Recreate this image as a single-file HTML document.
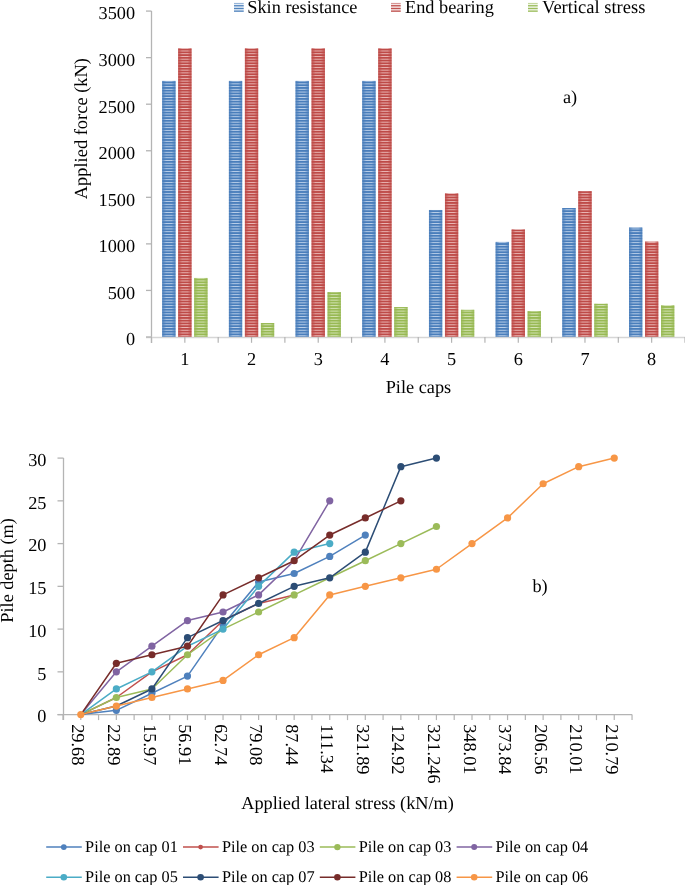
<!DOCTYPE html>
<html><head><meta charset="utf-8"><style>
html,body{margin:0;padding:0;background:#fff;width:685px;height:885px;overflow:hidden}
svg{display:block;will-change:transform}
text{text-rendering:geometricPrecision;font-family:"Liberation Serif", serif;font-size:18.3px;fill:#000}
</style></head><body>
<svg width="685" height="885" viewBox="0 0 685 885">

<defs>
 <linearGradient id="edge" x1="0" x2="1" y1="0" y2="0">
  <stop offset="0" stop-color="#000" stop-opacity="0.10"/>
  <stop offset="0.25" stop-color="#000" stop-opacity="0"/>
  <stop offset="0.75" stop-color="#000" stop-opacity="0"/>
  <stop offset="1" stop-color="#000" stop-opacity="0.10"/>
 </linearGradient>
 <linearGradient id="pB" gradientUnits="userSpaceOnUse" x1="0" y1="0.331" x2="0" y2="3.069" spreadMethod="repeat">
  <stop offset="0" stop-color="#4A7EBB"/>
  <stop offset="0.16" stop-color="#4A7EBB"/>
  <stop offset="0.5" stop-color="#BBD0EA"/>
  <stop offset="0.84" stop-color="#4A7EBB"/>
  <stop offset="1" stop-color="#4A7EBB"/>
 </linearGradient>
 <linearGradient id="epB" x1="0" x2="1" y1="0" y2="0">
  <stop offset="0" stop-color="#4A7EBB" stop-opacity="0.9"/>
  <stop offset="0.3" stop-color="#4A7EBB" stop-opacity="0"/>
  <stop offset="0.7" stop-color="#4A7EBB" stop-opacity="0"/>
  <stop offset="1" stop-color="#4A7EBB" stop-opacity="0.9"/>
 </linearGradient>
 <linearGradient id="pR" gradientUnits="userSpaceOnUse" x1="0" y1="0.331" x2="0" y2="3.069" spreadMethod="repeat">
  <stop offset="0" stop-color="#BE4B48"/>
  <stop offset="0.16" stop-color="#BE4B48"/>
  <stop offset="0.5" stop-color="#EBB8B6"/>
  <stop offset="0.84" stop-color="#BE4B48"/>
  <stop offset="1" stop-color="#BE4B48"/>
 </linearGradient>
 <linearGradient id="epR" x1="0" x2="1" y1="0" y2="0">
  <stop offset="0" stop-color="#BE4B48" stop-opacity="0.9"/>
  <stop offset="0.3" stop-color="#BE4B48" stop-opacity="0"/>
  <stop offset="0.7" stop-color="#BE4B48" stop-opacity="0"/>
  <stop offset="1" stop-color="#BE4B48" stop-opacity="0.9"/>
 </linearGradient>
 <linearGradient id="pG" gradientUnits="userSpaceOnUse" x1="0" y1="0.331" x2="0" y2="3.069" spreadMethod="repeat">
  <stop offset="0" stop-color="#98B954"/>
  <stop offset="0.16" stop-color="#98B954"/>
  <stop offset="0.5" stop-color="#D6E5B8"/>
  <stop offset="0.84" stop-color="#98B954"/>
  <stop offset="1" stop-color="#98B954"/>
 </linearGradient>
 <linearGradient id="epG" x1="0" x2="1" y1="0" y2="0">
  <stop offset="0" stop-color="#98B954" stop-opacity="0.9"/>
  <stop offset="0.3" stop-color="#98B954" stop-opacity="0"/>
  <stop offset="0.7" stop-color="#98B954" stop-opacity="0"/>
  <stop offset="1" stop-color="#98B954" stop-opacity="0.9"/>
 </linearGradient>
</defs>
<rect x="162.22" y="80.92" width="13.25" height="256.08" fill="url(#pB)"/>
<rect x="162.22" y="80.92" width="13.25" height="256.08" fill="url(#epB)"/>
<rect x="178.22" y="48.33" width="13.25" height="288.67" fill="url(#pR)"/>
<rect x="178.22" y="48.33" width="13.25" height="288.67" fill="url(#epR)"/>
<rect x="194.22" y="277.96" width="13.25" height="59.04" fill="url(#pG)"/>
<rect x="194.22" y="277.96" width="13.25" height="59.04" fill="url(#epG)"/>
<rect x="228.91" y="80.92" width="13.25" height="256.08" fill="url(#pB)"/>
<rect x="228.91" y="80.92" width="13.25" height="256.08" fill="url(#epB)"/>
<rect x="244.91" y="48.33" width="13.25" height="288.67" fill="url(#pR)"/>
<rect x="244.91" y="48.33" width="13.25" height="288.67" fill="url(#epR)"/>
<rect x="260.91" y="323.03" width="13.25" height="13.97" fill="url(#pG)"/>
<rect x="260.91" y="323.03" width="13.25" height="13.97" fill="url(#epG)"/>
<rect x="295.59" y="80.92" width="13.25" height="256.08" fill="url(#pB)"/>
<rect x="295.59" y="80.92" width="13.25" height="256.08" fill="url(#epB)"/>
<rect x="311.59" y="48.33" width="13.25" height="288.67" fill="url(#pR)"/>
<rect x="311.59" y="48.33" width="13.25" height="288.67" fill="url(#epR)"/>
<rect x="327.59" y="292.02" width="13.25" height="44.98" fill="url(#pG)"/>
<rect x="327.59" y="292.02" width="13.25" height="44.98" fill="url(#epG)"/>
<rect x="362.28" y="80.92" width="13.25" height="256.08" fill="url(#pB)"/>
<rect x="362.28" y="80.92" width="13.25" height="256.08" fill="url(#epB)"/>
<rect x="378.28" y="48.33" width="13.25" height="288.67" fill="url(#pR)"/>
<rect x="378.28" y="48.33" width="13.25" height="288.67" fill="url(#epR)"/>
<rect x="394.28" y="307.02" width="13.25" height="29.98" fill="url(#pG)"/>
<rect x="394.28" y="307.02" width="13.25" height="29.98" fill="url(#epG)"/>
<rect x="428.97" y="209.98" width="13.25" height="127.02" fill="url(#pB)"/>
<rect x="428.97" y="209.98" width="13.25" height="127.02" fill="url(#epB)"/>
<rect x="444.97" y="193.32" width="13.25" height="143.68" fill="url(#pR)"/>
<rect x="444.97" y="193.32" width="13.25" height="143.68" fill="url(#epR)"/>
<rect x="460.97" y="309.81" width="13.25" height="27.19" fill="url(#pG)"/>
<rect x="460.97" y="309.81" width="13.25" height="27.19" fill="url(#epG)"/>
<rect x="495.66" y="241.92" width="13.25" height="95.08" fill="url(#pB)"/>
<rect x="495.66" y="241.92" width="13.25" height="95.08" fill="url(#epB)"/>
<rect x="511.66" y="229.45" width="13.25" height="107.55" fill="url(#pR)"/>
<rect x="511.66" y="229.45" width="13.25" height="107.55" fill="url(#epR)"/>
<rect x="527.66" y="311.02" width="13.25" height="25.98" fill="url(#pG)"/>
<rect x="527.66" y="311.02" width="13.25" height="25.98" fill="url(#epG)"/>
<rect x="562.34" y="208.03" width="13.25" height="128.97" fill="url(#pB)"/>
<rect x="562.34" y="208.03" width="13.25" height="128.97" fill="url(#epB)"/>
<rect x="578.34" y="191.17" width="13.25" height="145.83" fill="url(#pR)"/>
<rect x="578.34" y="191.17" width="13.25" height="145.83" fill="url(#epR)"/>
<rect x="594.34" y="303.76" width="13.25" height="33.24" fill="url(#pG)"/>
<rect x="594.34" y="303.76" width="13.25" height="33.24" fill="url(#epG)"/>
<rect x="629.03" y="227.58" width="13.25" height="109.42" fill="url(#pB)"/>
<rect x="629.03" y="227.58" width="13.25" height="109.42" fill="url(#epB)"/>
<rect x="645.03" y="241.65" width="13.25" height="95.35" fill="url(#pR)"/>
<rect x="645.03" y="241.65" width="13.25" height="95.35" fill="url(#epR)"/>
<rect x="661.03" y="305.25" width="13.25" height="31.75" fill="url(#pG)"/>
<rect x="661.03" y="305.25" width="13.25" height="31.75" fill="url(#epG)"/>
<line x1="151.5" y1="11.1" x2="151.5" y2="343.0" stroke="#B4B4B4" stroke-width="1.3"/>
<line x1="146.0" y1="337.5" x2="685" y2="337.5" stroke="#D6D6D6" stroke-width="1.6"/>
<line x1="146.0" y1="337.00" x2="151.5" y2="337.00" stroke="#B4B4B4" stroke-width="1.3"/>
<text x="135.1" y="345.40" text-anchor="end">0</text>
<line x1="146.0" y1="290.44" x2="151.5" y2="290.44" stroke="#B4B4B4" stroke-width="1.3"/>
<text x="135.1" y="298.84" text-anchor="end">500</text>
<line x1="146.0" y1="243.88" x2="151.5" y2="243.88" stroke="#B4B4B4" stroke-width="1.3"/>
<text x="135.1" y="252.28" text-anchor="end">1000</text>
<line x1="146.0" y1="197.32" x2="151.5" y2="197.32" stroke="#B4B4B4" stroke-width="1.3"/>
<text x="135.1" y="205.72" text-anchor="end">1500</text>
<line x1="146.0" y1="150.76" x2="151.5" y2="150.76" stroke="#B4B4B4" stroke-width="1.3"/>
<text x="135.1" y="159.16" text-anchor="end">2000</text>
<line x1="146.0" y1="104.20" x2="151.5" y2="104.20" stroke="#B4B4B4" stroke-width="1.3"/>
<text x="135.1" y="112.60" text-anchor="end">2500</text>
<line x1="146.0" y1="57.64" x2="151.5" y2="57.64" stroke="#B4B4B4" stroke-width="1.3"/>
<text x="135.1" y="66.04" text-anchor="end">3000</text>
<line x1="146.0" y1="11.08" x2="151.5" y2="11.08" stroke="#B4B4B4" stroke-width="1.3"/>
<text x="135.1" y="19.48" text-anchor="end">3500</text>
<line x1="151.50" y1="337.0" x2="151.50" y2="342.8" stroke="#B4B4B4" stroke-width="1.2"/>
<line x1="184.84" y1="337.0" x2="184.84" y2="342.8" stroke="#B4B4B4" stroke-width="1.2"/>
<line x1="218.19" y1="337.0" x2="218.19" y2="342.8" stroke="#B4B4B4" stroke-width="1.2"/>
<line x1="251.53" y1="337.0" x2="251.53" y2="342.8" stroke="#B4B4B4" stroke-width="1.2"/>
<line x1="284.88" y1="337.0" x2="284.88" y2="342.8" stroke="#B4B4B4" stroke-width="1.2"/>
<line x1="318.22" y1="337.0" x2="318.22" y2="342.8" stroke="#B4B4B4" stroke-width="1.2"/>
<line x1="351.56" y1="337.0" x2="351.56" y2="342.8" stroke="#B4B4B4" stroke-width="1.2"/>
<line x1="384.91" y1="337.0" x2="384.91" y2="342.8" stroke="#B4B4B4" stroke-width="1.2"/>
<line x1="418.25" y1="337.0" x2="418.25" y2="342.8" stroke="#B4B4B4" stroke-width="1.2"/>
<line x1="451.59" y1="337.0" x2="451.59" y2="342.8" stroke="#B4B4B4" stroke-width="1.2"/>
<line x1="484.94" y1="337.0" x2="484.94" y2="342.8" stroke="#B4B4B4" stroke-width="1.2"/>
<line x1="518.28" y1="337.0" x2="518.28" y2="342.8" stroke="#B4B4B4" stroke-width="1.2"/>
<line x1="551.62" y1="337.0" x2="551.62" y2="342.8" stroke="#B4B4B4" stroke-width="1.2"/>
<line x1="584.97" y1="337.0" x2="584.97" y2="342.8" stroke="#B4B4B4" stroke-width="1.2"/>
<line x1="618.31" y1="337.0" x2="618.31" y2="342.8" stroke="#B4B4B4" stroke-width="1.2"/>
<line x1="651.66" y1="337.0" x2="651.66" y2="342.8" stroke="#B4B4B4" stroke-width="1.2"/>
<line x1="685.00" y1="337.0" x2="685.00" y2="342.8" stroke="#B4B4B4" stroke-width="1.2"/>
<text x="184.84" y="365.3" text-anchor="middle">1</text>
<text x="251.53" y="365.3" text-anchor="middle">2</text>
<text x="318.22" y="365.3" text-anchor="middle">3</text>
<text x="384.91" y="365.3" text-anchor="middle">4</text>
<text x="451.59" y="365.3" text-anchor="middle">5</text>
<text x="518.28" y="365.3" text-anchor="middle">6</text>
<text x="584.97" y="365.3" text-anchor="middle">7</text>
<text x="651.66" y="365.3" text-anchor="middle">8</text>
<text x="385.7" y="392.5">Pile caps</text>
<text transform="translate(87,199.3) rotate(-90)" style="font-size:18.45px">Applied force (kN)</text>
<text x="562.9" y="102.8">a)</text>
<rect x="234" y="2.9" width="9.7" height="1.0" fill="#4A7EBB" fill-opacity="0.55"/>
<rect x="234" y="5.1" width="9.7" height="1.3" fill="#4A7EBB" fill-opacity="0.95"/>
<rect x="234" y="7.85" width="9.7" height="1.3" fill="#4A7EBB" fill-opacity="0.95"/>
<rect x="234" y="10.5" width="9.7" height="1.3" fill="#4A7EBB" fill-opacity="0.95"/>
<rect x="234" y="3" width="9.7" height="9" fill="#4A7EBB" fill-opacity="0.15"/>
<text x="247.3" y="12.7">Skin resistance</text>
<rect x="391" y="2.9" width="9.7" height="1.0" fill="#BE4B48" fill-opacity="0.55"/>
<rect x="391" y="5.1" width="9.7" height="1.3" fill="#BE4B48" fill-opacity="0.95"/>
<rect x="391" y="7.85" width="9.7" height="1.3" fill="#BE4B48" fill-opacity="0.95"/>
<rect x="391" y="10.5" width="9.7" height="1.3" fill="#BE4B48" fill-opacity="0.95"/>
<rect x="391" y="3" width="9.7" height="9" fill="#BE4B48" fill-opacity="0.15"/>
<text x="405.0" y="12.7">End bearing</text>
<rect x="528" y="2.9" width="9.7" height="1.0" fill="#98B954" fill-opacity="0.55"/>
<rect x="528" y="5.1" width="9.7" height="1.3" fill="#98B954" fill-opacity="0.95"/>
<rect x="528" y="7.85" width="9.7" height="1.3" fill="#98B954" fill-opacity="0.95"/>
<rect x="528" y="10.5" width="9.7" height="1.3" fill="#98B954" fill-opacity="0.95"/>
<rect x="528" y="3" width="9.7" height="9" fill="#98B954" fill-opacity="0.15"/>
<text x="542.1" y="12.7" style="font-size:18.5px">Vertical stress</text>
<line x1="63.5" y1="458.1" x2="63.5" y2="720.1" stroke="#B4B4B4" stroke-width="1.3"/>
<line x1="57.5" y1="714.6" x2="632.04" y2="714.6" stroke="#B4B4B4" stroke-width="1.3"/>
<line x1="57.5" y1="714.60" x2="63.5" y2="714.60" stroke="#B4B4B4" stroke-width="1.3"/>
<text x="46.5" y="722.40" text-anchor="end">0</text>
<line x1="57.5" y1="671.85" x2="63.5" y2="671.85" stroke="#B4B4B4" stroke-width="1.3"/>
<text x="46.5" y="679.65" text-anchor="end">5</text>
<line x1="57.5" y1="629.10" x2="63.5" y2="629.10" stroke="#B4B4B4" stroke-width="1.3"/>
<text x="46.5" y="636.90" text-anchor="end">10</text>
<line x1="57.5" y1="586.35" x2="63.5" y2="586.35" stroke="#B4B4B4" stroke-width="1.3"/>
<text x="46.5" y="594.15" text-anchor="end">15</text>
<line x1="57.5" y1="543.60" x2="63.5" y2="543.60" stroke="#B4B4B4" stroke-width="1.3"/>
<text x="46.5" y="551.40" text-anchor="end">20</text>
<line x1="57.5" y1="500.85" x2="63.5" y2="500.85" stroke="#B4B4B4" stroke-width="1.3"/>
<text x="46.5" y="508.65" text-anchor="end">25</text>
<line x1="57.5" y1="458.10" x2="63.5" y2="458.10" stroke="#B4B4B4" stroke-width="1.3"/>
<text x="46.5" y="465.90" text-anchor="end">30</text>
<line x1="63.00" y1="714.6" x2="63.00" y2="720.1" stroke="#B4B4B4" stroke-width="1.2"/>
<line x1="80.78" y1="714.6" x2="80.78" y2="720.1" stroke="#B4B4B4" stroke-width="1.2"/>
<line x1="98.56" y1="714.6" x2="98.56" y2="720.1" stroke="#B4B4B4" stroke-width="1.2"/>
<line x1="116.35" y1="714.6" x2="116.35" y2="720.1" stroke="#B4B4B4" stroke-width="1.2"/>
<line x1="134.13" y1="714.6" x2="134.13" y2="720.1" stroke="#B4B4B4" stroke-width="1.2"/>
<line x1="151.91" y1="714.6" x2="151.91" y2="720.1" stroke="#B4B4B4" stroke-width="1.2"/>
<line x1="169.69" y1="714.6" x2="169.69" y2="720.1" stroke="#B4B4B4" stroke-width="1.2"/>
<line x1="187.48" y1="714.6" x2="187.48" y2="720.1" stroke="#B4B4B4" stroke-width="1.2"/>
<line x1="205.26" y1="714.6" x2="205.26" y2="720.1" stroke="#B4B4B4" stroke-width="1.2"/>
<line x1="223.04" y1="714.6" x2="223.04" y2="720.1" stroke="#B4B4B4" stroke-width="1.2"/>
<line x1="240.82" y1="714.6" x2="240.82" y2="720.1" stroke="#B4B4B4" stroke-width="1.2"/>
<line x1="258.61" y1="714.6" x2="258.61" y2="720.1" stroke="#B4B4B4" stroke-width="1.2"/>
<line x1="276.39" y1="714.6" x2="276.39" y2="720.1" stroke="#B4B4B4" stroke-width="1.2"/>
<line x1="294.17" y1="714.6" x2="294.17" y2="720.1" stroke="#B4B4B4" stroke-width="1.2"/>
<line x1="311.95" y1="714.6" x2="311.95" y2="720.1" stroke="#B4B4B4" stroke-width="1.2"/>
<line x1="329.74" y1="714.6" x2="329.74" y2="720.1" stroke="#B4B4B4" stroke-width="1.2"/>
<line x1="347.52" y1="714.6" x2="347.52" y2="720.1" stroke="#B4B4B4" stroke-width="1.2"/>
<line x1="365.30" y1="714.6" x2="365.30" y2="720.1" stroke="#B4B4B4" stroke-width="1.2"/>
<line x1="383.08" y1="714.6" x2="383.08" y2="720.1" stroke="#B4B4B4" stroke-width="1.2"/>
<line x1="400.87" y1="714.6" x2="400.87" y2="720.1" stroke="#B4B4B4" stroke-width="1.2"/>
<line x1="418.65" y1="714.6" x2="418.65" y2="720.1" stroke="#B4B4B4" stroke-width="1.2"/>
<line x1="436.43" y1="714.6" x2="436.43" y2="720.1" stroke="#B4B4B4" stroke-width="1.2"/>
<line x1="454.21" y1="714.6" x2="454.21" y2="720.1" stroke="#B4B4B4" stroke-width="1.2"/>
<line x1="472.00" y1="714.6" x2="472.00" y2="720.1" stroke="#B4B4B4" stroke-width="1.2"/>
<line x1="489.78" y1="714.6" x2="489.78" y2="720.1" stroke="#B4B4B4" stroke-width="1.2"/>
<line x1="507.56" y1="714.6" x2="507.56" y2="720.1" stroke="#B4B4B4" stroke-width="1.2"/>
<line x1="525.35" y1="714.6" x2="525.35" y2="720.1" stroke="#B4B4B4" stroke-width="1.2"/>
<line x1="543.13" y1="714.6" x2="543.13" y2="720.1" stroke="#B4B4B4" stroke-width="1.2"/>
<line x1="560.91" y1="714.6" x2="560.91" y2="720.1" stroke="#B4B4B4" stroke-width="1.2"/>
<line x1="578.69" y1="714.6" x2="578.69" y2="720.1" stroke="#B4B4B4" stroke-width="1.2"/>
<line x1="596.47" y1="714.6" x2="596.47" y2="720.1" stroke="#B4B4B4" stroke-width="1.2"/>
<line x1="614.26" y1="714.6" x2="614.26" y2="720.1" stroke="#B4B4B4" stroke-width="1.2"/>
<line x1="632.04" y1="714.6" x2="632.04" y2="720.1" stroke="#B4B4B4" stroke-width="1.2"/>
<text transform="translate(72.38,724.2) rotate(90)">29.68</text>
<text transform="translate(107.95,724.2) rotate(90)">22.89</text>
<text transform="translate(143.51,724.2) rotate(90)">15.97</text>
<text transform="translate(179.08,724.2) rotate(90)">56.91</text>
<text transform="translate(214.64,724.2) rotate(90)">62.74</text>
<text transform="translate(250.21,724.2) rotate(90)">79.08</text>
<text transform="translate(285.77,724.2) rotate(90)">87.44</text>
<text transform="translate(321.34,724.2) rotate(90)">111.34</text>
<text transform="translate(356.90,724.2) rotate(90)">321.89</text>
<text transform="translate(392.47,724.2) rotate(90)">124.92</text>
<text transform="translate(428.03,724.2) rotate(90)">321.246</text>
<text transform="translate(463.60,724.2) rotate(90)">348.01</text>
<text transform="translate(499.16,724.2) rotate(90)">373.84</text>
<text transform="translate(534.73,724.2) rotate(90)">206.56</text>
<text transform="translate(570.29,724.2) rotate(90)">210.01</text>
<text transform="translate(605.86,724.2) rotate(90)">210.79</text>
<polyline points="80.78,714.60 116.35,710.33 151.91,693.23 187.48,676.12 223.04,624.83 258.61,582.08 294.17,573.52 329.74,556.42 365.30,535.05" fill="none" stroke="#4F81BD" stroke-width="1.5" stroke-linejoin="round"/>
<circle cx="116.35" cy="710.33" r="3.6" fill="#4F81BD"/>
<circle cx="151.91" cy="693.23" r="3.6" fill="#4F81BD"/>
<circle cx="187.48" cy="676.12" r="3.6" fill="#4F81BD"/>
<circle cx="223.04" cy="624.83" r="3.6" fill="#4F81BD"/>
<circle cx="258.61" cy="582.08" r="3.6" fill="#4F81BD"/>
<circle cx="294.17" cy="573.52" r="3.6" fill="#4F81BD"/>
<circle cx="329.74" cy="556.42" r="3.6" fill="#4F81BD"/>
<circle cx="365.30" cy="535.05" r="3.6" fill="#4F81BD"/>
<polyline points="80.78,714.60 116.35,697.50 151.91,671.85 187.48,654.75 223.04,620.55 258.61,603.45 294.17,594.90" fill="none" stroke="#C0504D" stroke-width="1.5" stroke-linejoin="round"/>
<polyline points="80.78,714.60 116.35,697.50 151.91,688.95 187.48,654.75 223.04,629.10 258.61,612.00 294.17,594.90 329.74,577.80 365.30,560.70 400.87,543.60 436.43,526.50" fill="none" stroke="#9BBB59" stroke-width="1.5" stroke-linejoin="round"/>
<circle cx="116.35" cy="697.50" r="3.6" fill="#9BBB59"/>
<circle cx="187.48" cy="654.75" r="3.6" fill="#9BBB59"/>
<circle cx="258.61" cy="612.00" r="3.6" fill="#9BBB59"/>
<circle cx="294.17" cy="594.90" r="3.6" fill="#9BBB59"/>
<circle cx="365.30" cy="560.70" r="3.6" fill="#9BBB59"/>
<circle cx="400.87" cy="543.60" r="3.6" fill="#9BBB59"/>
<circle cx="436.43" cy="526.50" r="3.6" fill="#9BBB59"/>
<polyline points="80.78,714.60 116.35,671.85 151.91,646.20 187.48,620.55 223.04,612.00 258.61,594.90 294.17,560.70 329.74,500.85" fill="none" stroke="#8064A2" stroke-width="1.5" stroke-linejoin="round"/>
<circle cx="116.35" cy="671.85" r="3.6" fill="#8064A2"/>
<circle cx="151.91" cy="646.20" r="3.6" fill="#8064A2"/>
<circle cx="187.48" cy="620.55" r="3.6" fill="#8064A2"/>
<circle cx="223.04" cy="612.00" r="3.6" fill="#8064A2"/>
<circle cx="258.61" cy="594.90" r="3.6" fill="#8064A2"/>
<circle cx="329.74" cy="500.85" r="3.6" fill="#8064A2"/>
<polyline points="80.78,714.60 116.35,688.95 151.91,671.85 187.48,646.20 223.04,629.10 258.61,586.35 294.17,552.15 329.74,543.60" fill="none" stroke="#4BACC6" stroke-width="1.5" stroke-linejoin="round"/>
<circle cx="116.35" cy="688.95" r="3.6" fill="#4BACC6"/>
<circle cx="151.91" cy="671.85" r="3.6" fill="#4BACC6"/>
<circle cx="223.04" cy="629.10" r="3.6" fill="#4BACC6"/>
<circle cx="258.61" cy="586.35" r="3.6" fill="#4BACC6"/>
<circle cx="294.17" cy="552.15" r="3.6" fill="#4BACC6"/>
<circle cx="329.74" cy="543.60" r="3.6" fill="#4BACC6"/>
<polyline points="80.78,714.60 116.35,706.05 151.91,688.95 187.48,637.65 223.04,620.55 258.61,603.45 294.17,586.35 329.74,577.80 365.30,552.15 400.87,466.65 436.43,458.10" fill="none" stroke="#2C4D75" stroke-width="1.5" stroke-linejoin="round"/>
<circle cx="151.91" cy="688.95" r="3.6" fill="#2C4D75"/>
<circle cx="187.48" cy="637.65" r="3.6" fill="#2C4D75"/>
<circle cx="223.04" cy="620.55" r="3.6" fill="#2C4D75"/>
<circle cx="258.61" cy="603.45" r="3.6" fill="#2C4D75"/>
<circle cx="294.17" cy="586.35" r="3.6" fill="#2C4D75"/>
<circle cx="329.74" cy="577.80" r="3.6" fill="#2C4D75"/>
<circle cx="365.30" cy="552.15" r="3.6" fill="#2C4D75"/>
<circle cx="400.87" cy="466.65" r="3.6" fill="#2C4D75"/>
<circle cx="436.43" cy="458.10" r="3.6" fill="#2C4D75"/>
<polyline points="80.78,714.60 116.35,663.30 151.91,654.75 187.48,646.20 223.04,594.90 258.61,577.80 294.17,560.70 329.74,535.05 365.30,517.95 400.87,500.85" fill="none" stroke="#772C2A" stroke-width="1.5" stroke-linejoin="round"/>
<circle cx="116.35" cy="663.30" r="3.6" fill="#772C2A"/>
<circle cx="151.91" cy="654.75" r="3.6" fill="#772C2A"/>
<circle cx="187.48" cy="646.20" r="3.6" fill="#772C2A"/>
<circle cx="223.04" cy="594.90" r="3.6" fill="#772C2A"/>
<circle cx="258.61" cy="577.80" r="3.6" fill="#772C2A"/>
<circle cx="294.17" cy="560.70" r="3.6" fill="#772C2A"/>
<circle cx="329.74" cy="535.05" r="3.6" fill="#772C2A"/>
<circle cx="365.30" cy="517.95" r="3.6" fill="#772C2A"/>
<circle cx="400.87" cy="500.85" r="3.6" fill="#772C2A"/>
<polyline points="80.78,714.60 116.35,706.05 151.91,697.50 187.48,688.95 223.04,680.40 258.61,654.75 294.17,637.65 329.74,594.90 365.30,586.35 400.87,577.80 436.43,569.25 472.00,543.60 507.56,517.95 543.13,483.75 578.69,466.65 614.26,458.10" fill="none" stroke="#F79646" stroke-width="1.5" stroke-linejoin="round"/>
<circle cx="80.78" cy="714.60" r="3.6" fill="#F79646"/>
<circle cx="116.35" cy="706.05" r="3.6" fill="#F79646"/>
<circle cx="151.91" cy="697.50" r="3.6" fill="#F79646"/>
<circle cx="187.48" cy="688.95" r="3.6" fill="#F79646"/>
<circle cx="223.04" cy="680.40" r="3.6" fill="#F79646"/>
<circle cx="258.61" cy="654.75" r="3.6" fill="#F79646"/>
<circle cx="294.17" cy="637.65" r="3.6" fill="#F79646"/>
<circle cx="329.74" cy="594.90" r="3.6" fill="#F79646"/>
<circle cx="365.30" cy="586.35" r="3.6" fill="#F79646"/>
<circle cx="400.87" cy="577.80" r="3.6" fill="#F79646"/>
<circle cx="436.43" cy="569.25" r="3.6" fill="#F79646"/>
<circle cx="472.00" cy="543.60" r="3.6" fill="#F79646"/>
<circle cx="507.56" cy="517.95" r="3.6" fill="#F79646"/>
<circle cx="543.13" cy="483.75" r="3.6" fill="#F79646"/>
<circle cx="578.69" cy="466.65" r="3.6" fill="#F79646"/>
<circle cx="614.26" cy="458.10" r="3.6" fill="#F79646"/>
<text x="241.2" y="808.8">Applied lateral stress (kN/m)</text>
<text transform="translate(13,622.7) rotate(-90)">Pile depth (m)</text>
<text x="532.4" y="591.5">b)</text>
<line x1="46.2" y1="847.1" x2="81.80000000000001" y2="847.1" stroke="#4F81BD" stroke-width="1.5"/>
<circle cx="63.800000000000004" cy="847.1" r="2.9" fill="#4F81BD"/>
<text x="85.1" y="851.5" style="font-size:16.3px">Pile on cap 01</text>
<line x1="183.0" y1="847.1" x2="218.6" y2="847.1" stroke="#C0504D" stroke-width="1.5"/>
<circle cx="200.6" cy="847.1" r="2.4" fill="#C0504D"/>
<text x="221.9" y="851.5" style="font-size:16.3px">Pile on cap 03</text>
<line x1="319.8" y1="847.1" x2="355.40000000000003" y2="847.1" stroke="#9BBB59" stroke-width="1.5"/>
<circle cx="337.40000000000003" cy="847.1" r="3.2" fill="#9BBB59"/>
<text x="358.7" y="851.5" style="font-size:16.3px">Pile on cap 03</text>
<line x1="456.6" y1="847.1" x2="492.20000000000005" y2="847.1" stroke="#8064A2" stroke-width="1.5"/>
<circle cx="474.20000000000005" cy="847.1" r="3.0" fill="#8064A2"/>
<text x="495.5" y="851.5" style="font-size:16.3px">Pile on cap 04</text>
<line x1="46.2" y1="877.3000000000001" x2="81.80000000000001" y2="877.3000000000001" stroke="#4BACC6" stroke-width="1.5"/>
<circle cx="63.800000000000004" cy="877.3000000000001" r="3.3" fill="#4BACC6"/>
<text x="85.1" y="881.7" style="font-size:16.3px">Pile on cap 05</text>
<line x1="183.0" y1="877.3000000000001" x2="218.6" y2="877.3000000000001" stroke="#2C4D75" stroke-width="1.5"/>
<circle cx="200.6" cy="877.3000000000001" r="3.3" fill="#2C4D75"/>
<text x="221.9" y="881.7" style="font-size:16.3px">Pile on cap 07</text>
<line x1="319.8" y1="877.3000000000001" x2="355.40000000000003" y2="877.3000000000001" stroke="#772C2A" stroke-width="1.5"/>
<circle cx="337.40000000000003" cy="877.3000000000001" r="3.3" fill="#772C2A"/>
<text x="358.7" y="881.7" style="font-size:16.3px">Pile on cap 08</text>
<line x1="456.6" y1="877.3000000000001" x2="492.20000000000005" y2="877.3000000000001" stroke="#F79646" stroke-width="1.5"/>
<circle cx="474.20000000000005" cy="877.3000000000001" r="3.3" fill="#F79646"/>
<text x="495.5" y="881.7" style="font-size:16.3px">Pile on cap 06</text>
</svg>
</body></html>
